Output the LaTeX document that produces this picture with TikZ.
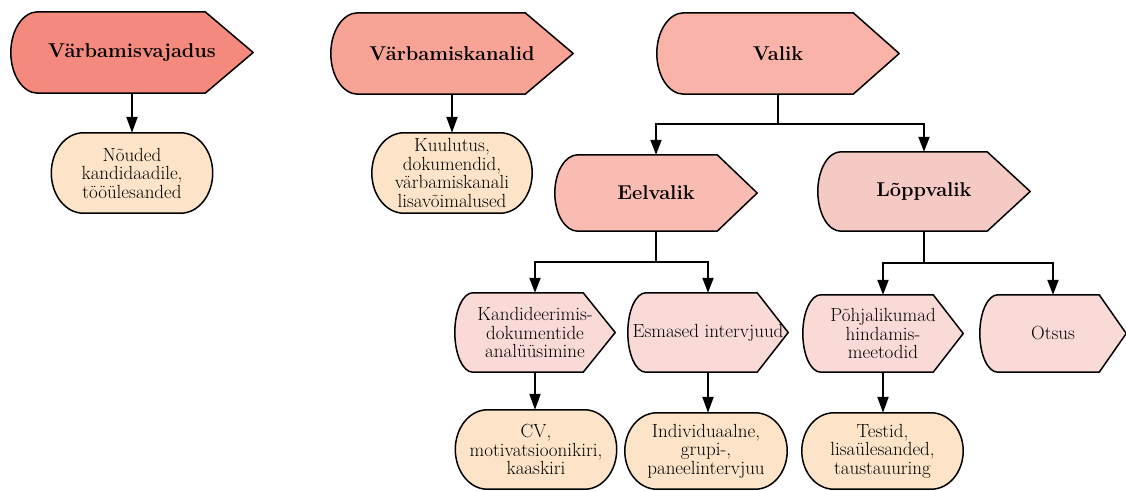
\documentclass[tikz,border=0pt]{standalone}
\usepackage{tikz}
\usetikzlibrary{arrows.meta, calc, backgrounds}
\definecolor{tonA}{HTML}{F4897D}
\definecolor{tonB}{HTML}{F7A396}
\definecolor{tonC}{HTML}{F9B3A8}
\definecolor{tonD}{HTML}{F8BCB3}
\definecolor{tonE}{HTML}{F5CAC5}
\definecolor{tonF}{HTML}{FADAD6}
\definecolor{tonG}{HTML}{FDE4C8}
\tikzset{
    dispBox/.style={inner sep=0pt, align=center},
    headText/.style={font=\fontsize{20}{24}\selectfont\bfseries},
    bodyText/.style={font=\fontsize{19}{18.5}\selectfont},
    outline/.style={draw=black, line width=1.5pt, line join=round},
    flowEdge/.style={-{Triangle[length=16pt, width=11pt]}, line width=2pt},
    branchEdge/.style={-{Triangle[length=15pt, width=11pt]}, line width=2pt},
}
\newcommand{\drawDisplay}[4]{
    % #1 node, #2 kaare laius, #3 noole pikkus, #4 värv
    \begin{pgfonlayer}{background}
    \draw[outline, fill=#4] let \p1=(#1.north west), \p2=(#1.south east) in
        (\x1+#2,\y1) -- (\x2-#3,\y1) -- (#1.east) -- (\x2-#3,\y2) -- (\x1+#2,\y2)
        arc[start angle=270, end angle=90, x radius=#2, y radius={(\y1-\y2)/2}] -- cycle;
    \end{pgfonlayer}
}
\newcommand{\drawTerm}[3]{
    % #1 node, #2 kaare laius, #3 värv
    \begin{pgfonlayer}{background}
    \draw[outline, fill=#3] let \p1=(#1.north west), \p2=(#1.south east) in
        (\x1+#2,\y1) -- (\x2-#2,\y1)
        arc[start angle=90, end angle=-90, x radius=#2, y radius={(\y1-\y2)/2}]
        -- (\x1+#2,\y2)
        arc[start angle=270, end angle=90, x radius=#2, y radius={(\y1-\y2)/2}] -- cycle;
    \end{pgfonlayer}
}
\newcommand{\drawBranch}[4][branchEdge]{
    \draw[#1] (#2.south) -- ++(0,-#4) -| (#3.north);
}

\begin{document}
\begin{tikzpicture}[x=1pt, y=1pt]
        \useasboundingbox (0,0) rectangle (1126,-490);

        % ylemine rida
        \node[dispBox, headText, minimum width=242pt, minimum height=81pt] (vajadus) at (132,-52.5) {Värbamisvajadus};
        \node[dispBox, headText, minimum width=242pt, minimum height=81pt] (kanalid) at (452,-53.5) {Värbamiskanalid};
        \node[dispBox, headText, minimum width=242pt, minimum height=81pt] (valik) at (778,-53.5) {Valik};
        \node[dispBox, bodyText, minimum width=161pt, minimum height=80pt] (noue) at (132,-173) {Nõuded\\kandidaadile,\\tööülesanded};
        \node[dispBox, bodyText, minimum width=160pt, minimum height=80pt] (kuulutus) at (452,-173) {Kuulutus,\\dokumendid,\\värbamiskanali\\lisavõimalused};

        % valiku etapid
        \node[dispBox, headText, minimum width=202pt, minimum height=76pt] (eelvalik) at (656,-193) {Eelvalik};
        \node[dispBox, headText, minimum width=212pt, minimum height=79pt] (loppvalik) at (924,-191.5) {Lõppvalik};
        \node[dispBox, bodyText, minimum width=160pt, minimum height=79pt] (kandid) at (535,-332.5) {Kandideerimis-\\dokumentide\\analüüsimine};
        \node[dispBox, bodyText, minimum width=160pt, minimum height=79pt] (esmased) at (708,-332.5) {Esmased intervjuud};
        \node[dispBox, bodyText, minimum width=160pt, minimum height=77pt] (pohjalik) at (883,-333.5) {Põhjalikumad\\hindamis-\\meetodid};
        \node[dispBox, bodyText, minimum width=146pt, minimum height=77pt] (otsus) at (1053,-333.5) {Otsus};
        \node[dispBox, bodyText, minimum width=161pt, minimum height=79pt] (cv) at (536,-449.5) {CV,\\motivatsioonikiri,\\kaaskiri};
        \node[dispBox, bodyText, minimum width=162pt, minimum height=76pt] (indiv) at (706,-451) {Individuaalne,\\grupi-,\\paneelintervjuu};
        \node[dispBox, bodyText, minimum width=161pt, minimum height=76pt] (testid) at (882.5,-451) {Testid,\\lisaülesanded,\\taustauuring};

        \drawDisplay{vajadus}{27pt}{48pt}{tonA}
        \drawDisplay{kanalid}{27pt}{48pt}{tonB}
        \drawDisplay{valik}{27pt}{46pt}{tonC}
        \drawDisplay{eelvalik}{23pt}{40pt}{tonD}
        \drawDisplay{loppvalik}{23pt}{43pt}{tonE}
        \drawDisplay{kandid}{18pt}{32pt}{tonF}
        \drawDisplay{esmased}{18pt}{31pt}{tonF}
        \drawDisplay{pohjalik}{18pt}{30pt}{tonF}
        \drawDisplay{otsus}{18pt}{27pt}{tonF}
        \drawTerm{noue}{32pt}{tonG}
        \drawTerm{kuulutus}{32pt}{tonG}
        \drawTerm{cv}{32pt}{tonG}
        \drawTerm{indiv}{32pt}{tonG}
        \drawTerm{testid}{32pt}{tonG}

        \draw[flowEdge] (vajadus.south) -- (vajadus.south |- noue.north);
        \draw[flowEdge] (kanalid.south) -- (kanalid.south |- kuulutus.north);
        \drawBranch{valik}{eelvalik}{30}
        \drawBranch{valik}{loppvalik}{30}
        \drawBranch{eelvalik}{kandid}{31}
        \drawBranch{eelvalik}{esmased}{31}
        \drawBranch{loppvalik}{pohjalik}{32}
        \drawBranch{loppvalik}{otsus}{32}
        \draw[flowEdge] (kandid.south) -- (kandid.south |- cv.north);
        \draw[flowEdge] (esmased.south) -- (esmased.south |- indiv.north);
        \draw[flowEdge] (pohjalik.south) -- (pohjalik.south |- testid.north);

    \end{tikzpicture}
\end{document}
